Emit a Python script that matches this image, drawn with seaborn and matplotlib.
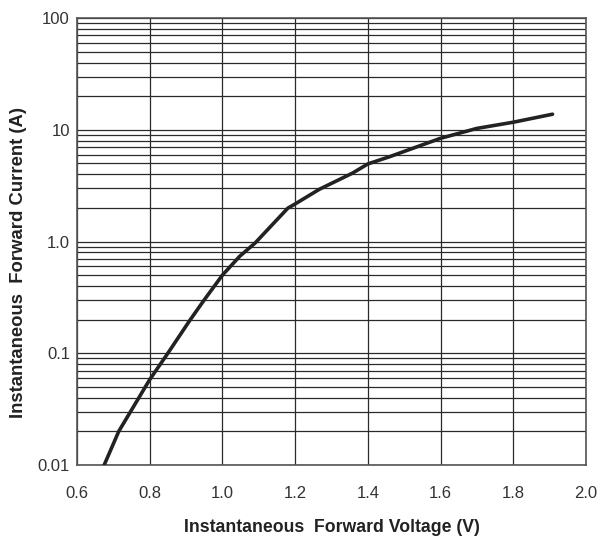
import numpy as np
import pandas as pd
import matplotlib
matplotlib.use("Agg")
import matplotlib.pyplot as plt
import matplotlib.ticker as mticker
import seaborn as sns

# forward characteristic
voltage = [0.675, 0.715, 0.8, 0.85, 0.91, 0.95, 1.0, 1.048, 1.09, 1.18,
           1.2, 1.267, 1.358, 1.4, 1.46, 1.6, 1.7, 1.8, 1.908]
current = [0.01, 0.02, 0.058, 0.1, 0.196, 0.30, 0.50, 0.74, 0.97, 1.99,
           2.17, 2.94, 4.1, 4.95, 5.75, 8.4, 10.3, 11.7, 13.8]

x_ticks = [0.6, 0.8, 1.0, 1.2, 1.4, 1.6, 1.8, 2.0]
x_labels = ["0.6", "0.8", "1.0", "1.2", "1.4", "1.6", "1.8", "2.0"]
y_ticks = [0.01, 0.1, 1.0, 10, 100]
y_labels = ["0.01", "0.1", "1.0", "10", "100"]

df = pd.DataFrame({"V": voltage, "I": current})

sns.set_style("white")
plt.rcParams["font.family"] = ["Liberation Sans", "DejaVu Sans"]

fig = plt.figure(figsize=(6.01, 5.41), dpi=100)
ax = fig.add_axes([0.128, 0.1405, 0.847, 0.826])

sns.lineplot(data=df, x="V", y="I", ax=ax, color="#222222", lw=2.6, zorder=3)

ax.set_yscale("log")
ax.set_xlim(0.6, 2.0)
ax.set_ylim(0.01, 100)

ax.set_xticks(x_ticks)
ax.set_xticklabels(x_labels)
ax.set_yticks(y_ticks)
ax.set_yticklabels(y_labels)
ax.yaxis.set_minor_locator(mticker.LogLocator(base=10, subs=np.arange(2, 10)))
ax.yaxis.set_minor_formatter(mticker.NullFormatter())

ax.grid(True, which="major", axis="both", color="#2a2a2a", lw=0.9)
ax.grid(True, which="minor", axis="y", color="#2a2a2a", lw=0.9)
ax.tick_params(which="both", length=0, labelsize=12, labelcolor="#333333")
ax.tick_params(axis="x", pad=15)
ax.tick_params(axis="y", pad=5)

for s in ax.spines.values():
    s.set_color("#555555")
    s.set_linewidth(1.2)

ax.set_xlabel("Instantaneous  Forward Voltage (V)", fontsize=12.7,
              fontweight="bold", color="#222222", labelpad=13)
ax.set_ylabel("Instantaneous  Forward Current (A)", fontsize=13.3,
              fontweight="bold", color="#222222")
ax.yaxis.set_label_coords(-0.098, 0.454)

fig.savefig("out.png", dpi=100)
